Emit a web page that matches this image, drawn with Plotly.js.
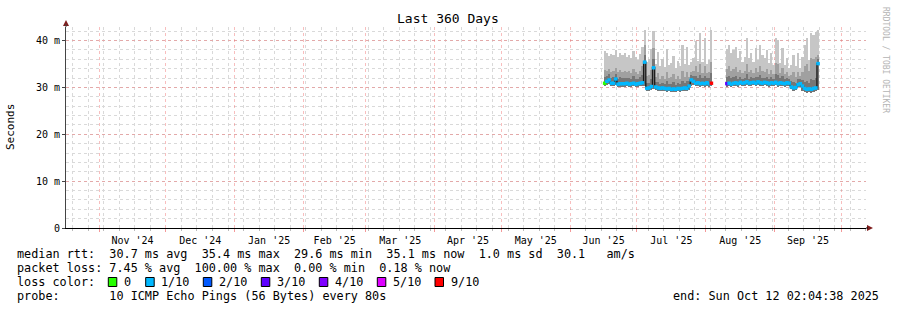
<!DOCTYPE html>
<html><head><meta charset="utf-8">
<script src="https://cdn.plot.ly/plotly-3.0.1.min.js"></script>
<style>html,body{margin:0;padding:0;background:#fff}</style>
</head><body><div id="chart" style="width:897px;height:310px"></div>
<script>
// ---- data (one entry per day, null = no data) ----
const days = [
"06-16","06-17","06-18","06-19","06-20","06-21","06-22","06-23","06-24","06-25","06-26","06-27","06-28","06-29","06-30",
"07-01","07-02","07-03","07-04","07-05","07-06","07-07","07-08","07-09","07-10","07-11","07-12","07-13","07-14","07-15",
"07-16","07-17","07-18","07-19","07-20","07-21","07-22","07-23","07-24","07-25","07-26","07-27","07-28","07-29","07-30","07-31",
"08-01","08-02","08-03","08-04","08-05","08-06","08-07","08-08","08-09","08-10","08-11","08-12","08-13","08-14","08-15",
"08-16","08-17","08-18","08-19","08-20","08-21","08-22","08-23","08-24","08-25","08-26","08-27","08-28","08-29","08-30","08-31",
"09-01","09-02","09-03","09-04","09-05","09-06","09-07","09-08","09-09","09-10","09-11","09-12","09-13","09-14","09-15",
"09-16","09-17","09-18","09-19","09-20"];

// median rtt (ms)
const medianMs = [
30.9,31.3,31.6,30.9,30.9,31.8,30.7,30.8,30.8,30.8, 30.9,30.7,30.8,30.9,30.7,30.8,30.9,31.0,35.4,29.8,
29.9,30.2,34.2,30.1,29.9,29.8,29.9,29.8,29.7,29.8, 29.6,29.7,29.6,29.8,29.7,29.8,29.9,29.8,30.3,31.6,
31.3,30.9,31.0,30.8,30.9,30.8,31.0,30.8,30.9,
null,null,null,null,null,null,
30.8,30.9,30.7,30.9,31.0,30.8,31.1,30.9,31.0,31.2, 30.9,31.0,31.1,30.9,31.2,31.0,30.9,31.1,31.0,30.8,
31.0,30.9,31.1,30.8,31.0,30.9,30.8,31.0,30.9,30.1, 29.9,30.0,30.6,30.8,30.3,29.8,29.6,29.7,29.6,29.8,
29.9,35.1];
// lowest ping (ms)
const minPing = [
30.3,30.6,30.7,30.3,30.3,30.6,30.1,30.2,30.2,30.2, 30.3,30.1,30.2,30.3,30.1,30.2,30.3,30.3,30.4,29.2,
29.3,29.4,29.6,29.4,29.3,29.2,29.3,29.2,29.1,29.2, 29.0,29.1,29.0,29.2,29.1,29.2,29.3,29.2,29.5,30.4,
30.5,30.3,30.4,30.2,30.3,30.2,30.4,30.2,30.3,
null,null,null,null,null,null,
30.2,30.3,30.1,30.3,30.4,30.2,30.5,30.3,30.4,30.5, 30.3,30.4,30.5,30.3,30.5,30.4,30.3,30.5,30.4,30.2,
30.4,30.3,30.5,30.2,30.4,30.3,30.2,30.4,30.3,29.6, 29.3,29.4,30.0,30.1,29.2,29.0,28.9,29.0,28.9,29.1,
29.3,29.4];
// inner smoke top (ms)
const innerTop = [
32.2,32.4,32.8,32.1,32.2,32.9,31.9,32.2,32.0,32.1, 32.0,32.1,31.9,32.4,31.9,31.8,32.2,32.6,37.0,30.9,
31.0,31.8,36.0,31.1,31.2,30.8,31.0,30.7,31.3,30.8, 30.8,31.1,30.6,30.9,30.7,31.4,30.9,31.3,31.3,32.6,
32.4,32.5,32.1,32.6,32.0,32.4,32.1,32.0,33.0,
null,null,null,null,null,null,
32.2,32.5,32.0,32.2,32.4,31.9,32.3,31.9,32.1,32.8, 31.9,32.2,32.0,32.3,32.2,32.6,32.0,32.1,32.3,31.8,
32.2,31.8,32.8,32.6,32.0,32.4,31.8,32.1,31.9,31.4, 31.1,31.0,31.8,31.9,31.5,31.2,31.4,30.9,31.8,31.6,
32.0,36.0];
// middle smoke top (ms)
const midTop = [
33.8,33.5,34.0,33.4,33.6,34.2,33.2,33.7,33.3,33.6, 33.2,33.5,33.0,34.0,33.2,32.8,33.6,34.5,39.0,32.4,
32.6,33.8,38.5,32.2,33.0,31.9,32.5,31.8,33.2,32.0, 32.2,32.8,31.7,32.4,31.9,33.5,32.2,33.4,32.3,33.4,
33.5,34.6,33.2,35.0,33.1,34.5,33.0,33.3,35.5,
null,null,null,null,null,null,
34.0,34.5,33.6,34.0,34.3,33.2,33.8,33.0,33.5,35.0, 33.2,33.8,33.0,34.2,33.2,34.6,33.6,33.3,34.0,32.9,
33.8,32.8,35.2,35.0,33.0,34.2,32.8,33.3,32.5,32.6, 33.2,32.2,33.4,32.4,33.3,34.5,35.0,33.6,36.2,36.0,
36.5,37.0];
// highest ping (ms)
const maxPing = [
37.7,37.4,36.8,37.2,37.0,38.0,36.5,37.4,36.9,37.3, 36.6,37.0,36.2,37.8,36.5,35.8,37.2,38.6,42.3,35.5,
36.0,38.2,42.0,35.0,37.6,34.6,36.0,34.3,38.2,34.8, 35.2,36.8,34.2,35.6,34.6,39.0,35.0,38.7,34.8,35.4,
36.2,40.0,35.6,41.6,35.4,40.6,35.0,35.8,42.2,
null,null,null,null,null,null,
38.2,39.1,37.3,38.0,38.7,36.2,37.7,35.5,36.6,40.5, 36.2,37.3,35.5,38.4,35.9,39.1,36.9,36.2,38.0,35.2,
37.3,34.8,40.5,40.1,35.2,38.4,34.8,36.2,34.1,34.8, 36.9,34.5,37.3,34.1,36.6,39.1,40.5,35.9,41.6,41.2,
41.9,42.3];
// lost pings out of 10
const lossTenths = [
0,1,1,1,1,1,1,1,1,1, 1,1,1,1,1,1,1,1,1,1, 1,1,1,1,1,1,1,1,1,1, 1,1,1,1,1,1,1,1,1,1, 1,1,1,1,1,1,1,1,9,
null,null,null,null,null,null,
3,1,1,1,1,1,1,1,1,1, 1,1,1,1,1,1,1,1,1,1, 1,1,1,1,1,1,1,1,1,1, 1,1,1,1,1,1,1,1,1,1, 1,1];

const yTickVals = [0,10,20,30,40];
const yTickText = ["0","10 m","20 m","30 m","40 m"];
const lossLabels = ["0","1/10","2/10","3/10","4/10","5/10","9/10"];
const lossColors = ["#26ff00","#00b8ff","#0059ff","#5e00ff","#7e00ff","#dd00ff","#ff0000"];
const lossKeys = [0,1,2,3,4,5,9];

// ---- build ----
const xs = days.map(d => "2025-" + d + " 12:00");
const DAY = 86400000;
const diff = (a,b) => a.map((v,i)=> (v==null||b[i]==null)?null:+(v-b[i]).toFixed(2));
const colorOf = l => l==null ? "#00b8ff" : lossColors[lossKeys.indexOf(l)];
const MONO = "DejaVu Sans Mono";

function band(top, color){
  return {type:"bar", x:xs, y:diff(top,minPing), base:minPing, width:DAY,
    marker:{color:color, line:{width:0}}, hoverinfo:"skip", showlegend:false};
}
const traces = [
  band(maxPing, "#c6c6c6"),
  band(midTop, "#a0a0a0"),
  band(innerTop, "#767676"),
  {type:"scatter", mode:"lines", x:xs, y:medianMs, line:{color:"#1a1a1a", width:1.3, shape:"hvh"},
   connectgaps:false, hoverinfo:"skip", showlegend:false},
  {type:"scatter", mode:"markers", x:xs, y:medianMs,
   marker:{symbol:"line-ew-open", size:2.6, color:lossTenths.map(colorOf), line:{width:3.4}},
   hoverinfo:"skip", showlegend:false}
];

const L=66, T=27, W=800, H=201;
const PX = p => (p-L)/W;
const PY = p => (T+H-p)/H;

function txt(text, px, py, opts){
  return Object.assign({xref:"paper", yref:"paper", x:PX(px), y:PY(py), text:text.replace(/ /g,"\u00a0"),
    showarrow:false, xanchor:"left", yanchor:"middle",
    font:{family:MONO, size:11.8, color:"#000"}}, opts||{});
}

const annotations = [
  txt("Last 360 Days", 448, 19, {xanchor:"center", font:{family:MONO, size:13, color:"#000"}}),
  txt("Seconds", 11, 127, {xanchor:"center", textangle:-90, font:{family:MONO, size:11, color:"#000"}}),
  txt("RRDTOOL / TOBI OETIKER", 886, 60, {xanchor:"center", textangle:90, font:{family:MONO, size:8, color:"#b4b4b4"}}),
  txt("median rtt:  30.7 ms avg  35.4 ms max  29.6 ms min  35.1 ms now  1.0 ms sd  30.1   am/s", 15, 254.3),
  txt("packet loss: 7.45 % avg  100.00 % max  0.00 % min  0.18 % now", 15, 268.3),
  txt("loss color:", 15, 282),
  txt("probe:       10 ICMP Echo Pings (56 Bytes) every 80s", 15, 296),
  txt("end: Sun Oct 12 02:04:38 2025", 881, 296, {xanchor:"right"})
];
const boxLeft = [108.3,145.7,203.3,261.3,319.3,377.3,435];
const labelLeft = [122.3,159,217.3,275.3,333.3,391.3,449];
const shapes = [];
lossLabels.forEach((lab,i)=>{
  annotations.push(txt(lab, labelLeft[i], 282));
  shapes.push({type:"rect", xref:"paper", yref:"paper", x0:PX(boxLeft[i]), x1:PX(boxLeft[i]+8.5),
    y0:PY(286.5), y1:PY(277.5), fillcolor:lossColors[i], line:{color:"#000", width:1}});
});
// axis arrows
shapes.push({type:"path", xref:"paper", yref:"paper",
  path:`M ${PX(63)} ${PY(26)} L ${PX(69)} ${PY(26)} L ${PX(66)} ${PY(20)} Z`, fillcolor:"#7f1d1d", line:{width:0}});
shapes.push({type:"line", xref:"paper", yref:"paper", x0:0, x1:0, y0:1, y1:PY(24), line:{color:"#444", width:1}});
shapes.push({type:"path", xref:"paper", yref:"paper",
  path:`M ${PX(867)} ${PY(225)} L ${PX(867)} ${PY(231)} L ${PX(873)} ${PY(228)} Z`, fillcolor:"#7f1d1d", line:{width:0}});
shapes.push({type:"line", xref:"paper", yref:"paper", x0:1, x1:PX(868), y0:0, y1:0, line:{color:"#000", width:1}});

const layout = {
  width:897, height:310,
  margin:{l:L, r:897-L-W, t:T, b:310-T-H, pad:0},
  paper_bgcolor:"#fff", plot_bgcolor:"#fff",
  barmode:"overlay", bargap:0,
  showlegend:false, hovermode:false,
  xaxis:{type:"date", range:["2024-10-17 02:04:38","2025-10-12 02:04:38"],
    dtick:"M1", tick0:"2024-11-01", ticklabelmode:"period", tickformat:"%b '%y",
    showgrid:true, gridcolor:"rgba(240,110,110,0.45)", griddash:"dot", gridwidth:1,
    ticks:"outside", ticklen:3, tickcolor:"rgba(240,110,110,0.7)",
    showline:true, linecolor:"#000", linewidth:1, zeroline:false,
    tickfont:{family:MONO, size:10, color:"#000"},
    minor:{dtick:7*DAY, tick0:"2024-10-20", showgrid:true, gridcolor:"#d9d9d9", griddash:"dot", gridwidth:1,
      ticks:"outside", ticklen:2, tickcolor:"#bbb"}},
  yaxis:{range:[0,42.9], tickvals:yTickVals, ticktext:yTickText,
    showgrid:true, gridcolor:"rgba(240,110,110,0.45)", griddash:"dot", gridwidth:1,
    ticks:"outside", ticklen:3, tickcolor:"#444",
    showline:true, linecolor:"#444", linewidth:1, zeroline:false,
    tickfont:{family:MONO, size:10, color:"#000"},
    minor:{dtick:2, showgrid:true, gridcolor:"#d9d9d9", griddash:"dot", gridwidth:1}},
  annotations:annotations, shapes:shapes
};
Plotly.newPlot("chart", traces, layout, {staticPlot:true, displayModeBar:false});
</script></body></html>
